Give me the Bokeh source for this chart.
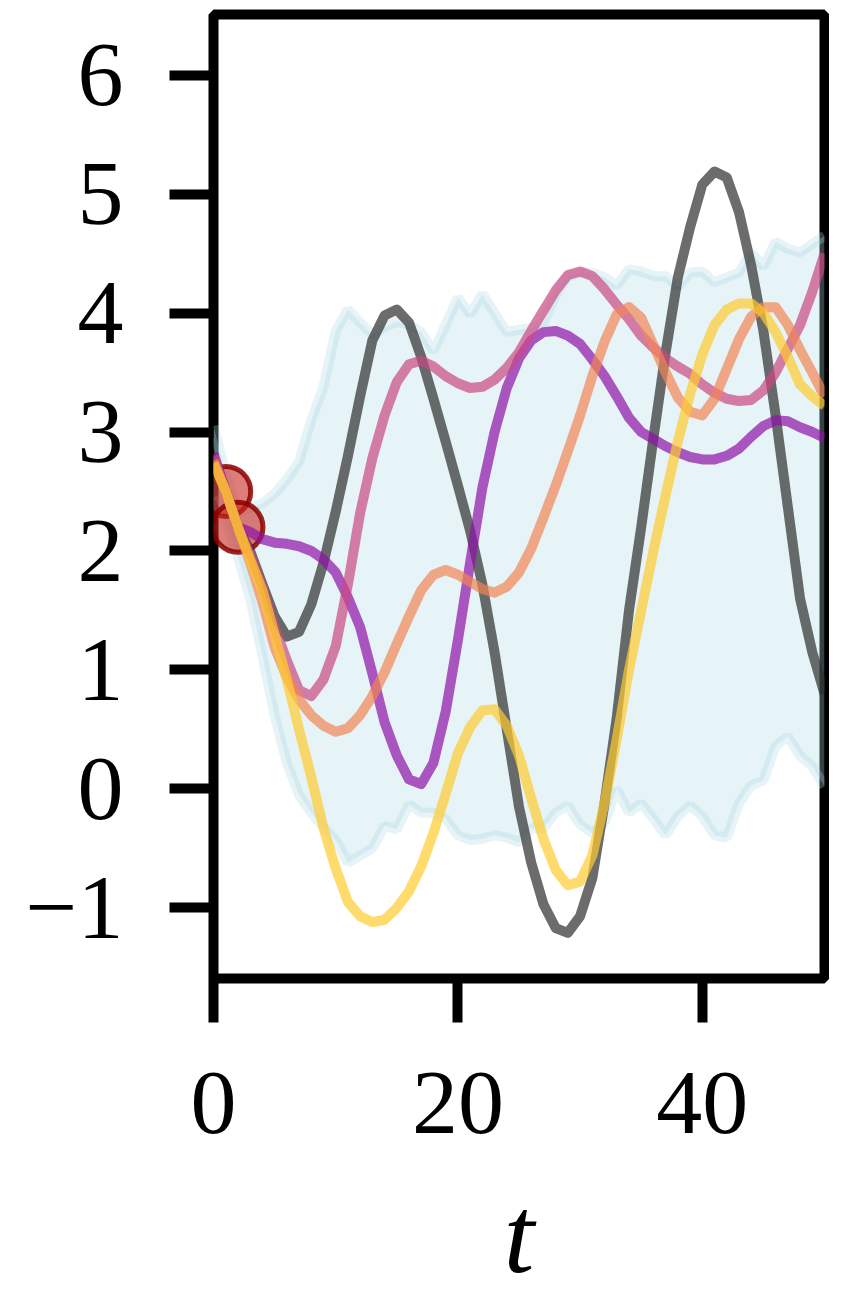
from bokeh.plotting import figure
from bokeh.models import Range1d, FixedTicker
from bokeh.embed import file_html
from bokeh.resources import INLINE

# time grid and the five drawn sample paths
t = list(range(51))

gray = [2.78, 2.5, 2.2, 2.0, 1.72, 1.45, 1.28, 1.32, 1.55, 1.9,
        2.33, 2.8, 3.3, 3.77, 3.98, 4.03, 3.92, 3.63, 3.28, 2.92,
        2.55, 2.17, 1.72, 1.15, 0.5, -0.15, -0.62, -0.97, -1.17, -1.21,
        -1.07, -0.75, -0.12, 0.6, 1.5, 2.2, 2.95, 3.67, 4.3, 4.72,
        5.08, 5.19, 5.14, 4.85, 4.4, 3.85, 3.14, 2.37, 1.6, 1.15, 0.8]
purple = [2.82, 2.5, 2.2, 2.16, 2.1, 2.07, 2.06, 2.04, 2.0, 1.93,
          1.82, 1.61, 1.36, 0.97, 0.56, 0.28, 0.08, 0.04, 0.22, 0.65,
          1.25, 1.9, 2.53, 3.0, 3.37, 3.62, 3.77, 3.84, 3.85, 3.81,
          3.74, 3.61, 3.47, 3.3, 3.12, 3.0, 2.94, 2.88, 2.83, 2.79,
          2.77, 2.77, 2.8, 2.86, 2.96, 3.05, 3.1, 3.09, 3.04, 3.0, 2.95]
pink = [2.8, 2.5, 2.2, 1.97, 1.7, 1.36, 1.08, 0.83, 0.78, 0.92,
        1.2, 1.72, 2.32, 2.78, 3.14, 3.42, 3.57, 3.6, 3.55, 3.47,
        3.41, 3.37, 3.38, 3.44, 3.54, 3.67, 3.85, 4.02, 4.19, 4.32,
        4.35, 4.31, 4.2, 4.07, 3.95, 3.81, 3.71, 3.62, 3.55, 3.49,
        3.4, 3.33, 3.28, 3.26, 3.27, 3.35, 3.5, 3.7, 3.9, 4.18, 4.5]
orange = [2.76, 2.5, 2.2, 1.9, 1.57, 1.19, 0.94, 0.75, 0.62, 0.53,
          0.48, 0.51, 0.62, 0.78, 0.98, 1.22, 1.45, 1.67, 1.8, 1.84,
          1.8, 1.74, 1.68, 1.65, 1.7, 1.82, 2.02, 2.28, 2.55, 2.84,
          3.14, 3.47, 3.76, 3.99, 4.05, 3.96, 3.73, 3.5, 3.29, 3.17,
          3.14, 3.28, 3.53, 3.78, 3.97, 4.05, 4.05, 3.9, 3.69, 3.5, 3.3]
yellow = [2.74, 2.5, 2.2, 1.93, 1.67, 1.3, 0.92, 0.5, 0.1, -0.33,
          -0.67, -0.95, -1.07, -1.12, -1.1, -1.0, -0.86, -0.65, -0.37, -0.04,
          0.3, 0.52, 0.66, 0.67, 0.53, 0.28, -0.08, -0.42, -0.68, -0.81,
          -0.78, -0.56, -0.12, 0.42, 1.0, 1.5, 2.0, 2.47, 2.92, 3.32,
          3.65, 3.9, 4.03, 4.08, 4.08, 4.0, 3.84, 3.63, 3.4, 3.3, 3.22]

# uncertainty band
band_upper = [3.05, 2.65, 2.32, 2.36, 2.4, 2.48, 2.6, 2.75, 3.1, 3.38,
              3.85, 4.03, 3.92, 3.82, 3.88, 3.93, 3.9, 3.84, 3.68, 3.9,
              4.13, 3.99, 4.16, 4.0, 3.84, 3.86, 3.87, 3.92, 4.15, 4.31,
              4.34, 4.34, 4.3, 4.23, 4.37, 4.35, 4.31, 4.31, 4.22, 4.34,
              4.35, 4.26, 4.3, 4.34, 4.51, 4.39, 4.6, 4.54, 4.51, 4.58, 4.65]
band_lower = [2.45, 2.25, 1.95, 1.6, 1.12, 0.62, 0.22, -0.05, -0.2, -0.32,
              -0.43, -0.62, -0.56, -0.5, -0.31, -0.34, -0.13, -0.2, -0.2, -0.25,
              -0.39, -0.43, -0.42, -0.39, -0.41, -0.45, -0.33, -0.33, -0.2, -0.14,
              -0.3, -0.37, -0.28, 0.0, -0.2, -0.12, -0.25, -0.39, -0.23, -0.14,
              -0.23, -0.39, -0.41, -0.12, 0.03, 0.07, 0.36, 0.44, 0.28, 0.19, 0.02]

# observations
obs_t = [1, 2]
obs_y = [2.5, 2.2]

x_ticks = [0, 20, 40]
y_ticks = [-1, 0, 1, 2, 3, 4, 5, 6]

p = figure(width=829, height=1298, title=None,
           x_range=Range1d(0, 50), y_range=Range1d(-1.594, 6.51),
           output_backend="svg", toolbar_location=None,
           min_border_left=213, min_border_right=5,
           min_border_top=14, min_border_bottom=315)

p.grid.visible = False
p.outline_line_color = "black"
p.outline_line_width = 10
p.outline_line_alpha = 1.0

# band
p.varea(x=t, y1=band_lower, y2=band_upper, fill_color="lightblue", fill_alpha=0.3)
p.line(t, band_upper, line_color="lightblue", line_alpha=0.3, line_width=10)
p.line(t, band_lower, line_color="lightblue", line_alpha=0.3, line_width=10)

# observed points
p.scatter(obs_t, obs_y, size=50, fill_color="#c8281e", fill_alpha=0.6,
          line_color="#8b0000", line_alpha=0.85, line_width=5)

# sample paths
series = [gray, purple, pink, orange, yellow]
colors = ["#2d2e2e", "#8e11a7", "#c94882", "#f18454", "#ffca2e"]
for ys, c in zip(series, colors):
    p.line(t, ys, line_color=c, line_alpha=0.7, line_width=10, line_join="round")

# axes
p.xaxis.ticker = FixedTicker(ticks=x_ticks)
p.yaxis.ticker = FixedTicker(ticks=y_ticks)
p.yaxis.major_label_overrides = {-1: "\u22121"}
for ax in (p.xaxis[0], p.yaxis[0]):
    ax.axis_line_color = None
    ax.major_tick_line_width = 10
    ax.major_tick_line_color = "black"
    ax.major_tick_out = 44
    ax.major_tick_in = 0
    ax.minor_tick_line_color = None
    ax.major_label_text_font = "Liberation Serif"
    ax.major_label_text_font_size = "92px"
    ax.major_label_text_color = "black"

p.yaxis.major_label_standoff = 46
p.xaxis.major_label_standoff = 50
p.xaxis.axis_label = "t"
p.xaxis.axis_label_text_font = "Liberation Serif"
p.xaxis.axis_label_text_font_style = "italic"
p.xaxis.axis_label_text_font_size = "110px"
p.xaxis.axis_label_text_color = "black"
p.xaxis.axis_label_standoff = 38

open("out.html", "w").write(file_html(p, INLINE))
